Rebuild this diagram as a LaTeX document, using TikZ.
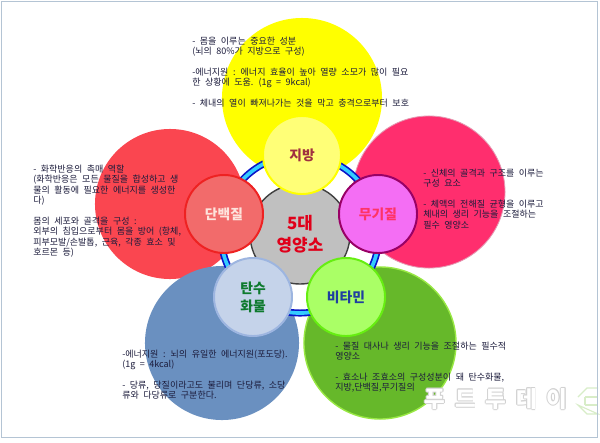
\documentclass[tikz,border=0pt]{standalone}
\usepackage{fontspec}
\setmainfont{Noto Sans CJK KR}
\DeclareRobustCommand\bodyfont{\fontsize{6.4}{7.4}\selectfont\setlength{\spaceskip}{0.5em}}
\definecolor{txt}{HTML}{1C1C3C}
\definecolor{cyellow}{HTML}{FFFF00}
\definecolor{cred}{HTML}{FA4650}
\definecolor{cpink}{HTML}{FF2E6E}
\definecolor{cblue}{HTML}{6A90C0}
\definecolor{cgreen}{HTML}{66B82A}
\definecolor{cgreenedge}{HTML}{99E844}
\definecolor{sy}{HTML}{FFFF77}
\definecolor{sr}{HTML}{F26B6B}
\definecolor{srb}{HTML}{EE2222}
\definecolor{sp}{HTML}{F46EF4}
\definecolor{spb}{HTML}{990066}
\definecolor{sb}{HTML}{C5D3EA}
\definecolor{sbb}{HTML}{9DB5E0}
\definecolor{sg}{HTML}{AAFF66}
\definecolor{sgb}{HTML}{66EE11}
\definecolor{ringdark}{HTML}{0A14C8}
\definecolor{ringlight}{HTML}{33CCFF}
\definecolor{core}{HTML}{C0C0C0}
\definecolor{coreb}{HTML}{404040}
\definecolor{ly}{HTML}{A03040}
\definecolor{lr}{HTML}{FDE3DC}
\definecolor{lp}{HTML}{FF3366}
\definecolor{lb}{HTML}{0E7A2E}
\definecolor{lg}{HTML}{1F3FA0}
\definecolor{lc}{HTML}{E0001A}
\definecolor{frame}{HTML}{B4C4D4}
\definecolor{wmline}{HTML}{D2D2D2}
\definecolor{logo}{HTML}{D8EDC8}
\begin{document}
\begin{tikzpicture}[x=0.025cm,y=-0.025cm,
  bigc/.style={circle,inner sep=0pt,outer sep=0pt,draw=none},
  smallc/.style={circle,inner sep=0pt,minimum size=1.95cm,line width=1.4pt},
  lab/.style={font=\bfseries\fontsize{9.8}{12.8}\selectfont,align=center,inner sep=0pt},
  body/.style={font=\bodyfont,text=txt,align=left,anchor=north west,inner sep=0pt},
  wmark/.style={font=\bfseries\fontsize{16}{16}\selectfont,inner sep=0pt}]
\useasboundingbox (0,0) rectangle (600,442);
\fill[white] (0,0) rectangle (600,442);
% big circles
\node[bigc,fill=cyellow,minimum size=4cm] (yb) at (302,98) {};
\node[bigc,fill=cred,minimum size=3.75cm] (rb) at (170,204) {};
\node[bigc,fill=cpink,draw=purple!40,line width=0.6pt,minimum size=3.8cm] (pb) at (429,192) {};
\node[bigc,fill=cgreen,draw=cgreenedge,line width=1pt,minimum size=3.8cm] (gb) at (380,343) {};
\node[bigc,fill=cblue,minimum size=3.85cm] (bb) at (222,343) {};
% ring
\coordinate (ctr) at (300,234);
\draw[ringdark,line width=5pt] (ctr) circle (1.975cm);
\draw[ringlight,line width=2.6pt] (ctr) circle (1.975cm);
% core
\node[circle,inner sep=0pt,minimum size=2.5cm,fill=core,draw=coreb,line width=1pt] (cn) at (ctr) {};
% small circles
\node[smallc,fill=sy,draw=cyellow] (ys) at (302,155) {};
\node[smallc,fill=sr,draw=srb] (rs) at (224,214) {};
\node[smallc,fill=sp,draw=spb] (ps) at (378,214) {};
\node[smallc,fill=sb,draw=sbb] (bs) at (253,297) {};
\node[smallc,fill=sg,draw=sgb] (gs) at (346,297) {};
% labels
\node[lab,text=ly] at (ys) {지방};
\node[lab,text=lr] at (rs) {단백질};
\node[lab,text=lp] at (ps) {무기질};
\node[lab,text=lb] at (bs) {탄수\\화물};
\node[lab,text=lg] at (gs) {비타민};
\node[font=\bfseries\fontsize{12}{15.6}\selectfont,align=center,text=lc,inner sep=0pt] (ct) at (cn) {5대\\영양소};
% body texts
\node[body] (ty) at (192,36.5) {- 몸을 이루는 중요한 성분\\(뇌의 80\%가 지방으로 구성)\\[7.4pt]-에너지원 : 에너지 효율이 높아 열량 소모가 많이 필요\\한 상황에 도움. (1g = 9kcal)\\[7.4pt]- 체내의 열이 빠져나가는 것을 막고 충격으로부터 보호};
\node[body] (tr) at (33,164.5) {- 화학반응의 촉매 역할\\(화학반응은 모든 물질을 합성하고 생\\물의 활동에 필요한 에너지를 생성한\\다)\\[7.4pt]몸의 세포와 골격을 구성 :\\외부의 침입으로부터 몸을 방어 (항체,\\피부모발/손발톱, 근육, 각종 효소 및\\호르몬 등)};
\node[body] (tp) at (423,168.5) {- 신체의 골격과 구조를 이루는\\구성 요소\\[7.4pt]- 체액의 전해질 균형을 이루고\\체내의 생리 기능을 조절하는\\필수 영양소};
\node[body] (tb) at (122,349.5) {-에너지원 : 뇌의 유일한 에너지원(포도당).\\(1g = 4kcal)\\[7.4pt]- 당류, 당질이라고도 불리며 단당류, 소당\\류와 다당류로 구분한다.};
\node[body] (tg) at (335,341.5) {- 물질 대사나 생리 기능을 조절하는 필수적\\영양소\\[7.4pt]- 효소나 조효소의 구성성분이 돼 탄수화물,\\지방,단백질,무기질의};
% watermark
\foreach \dx/\dy in {0.55/0,-0.55/0,0/0.55,0/-0.55,0.4/0.4,-0.4/0.4,0.4/-0.4,-0.4/-0.4}
  \node[wmark,text=wmline] at ([shift={(\dx pt,\dy pt)}]496,399) {푸\hspace{7pt}드\hspace{7pt}투\hspace{7pt}데\hspace{7pt}이};
\node[wmark,text=white] (wm) at (496,399) {푸\hspace{7pt}드\hspace{7pt}투\hspace{7pt}데\hspace{7pt}이};
\draw[logo,line width=0.8pt] (578,397) -- (587,388) -- (598,388) (598,414) -- (587,414) -- (578,405) -- cycle;
\draw[logo,line width=0.8pt] (585,397) -- (598,397) (585,405) -- (598,405) (585,397) -- (585,405);
% frame
\draw[frame,line width=1.4pt] (1.5,1.5) rectangle (597.5,437.5);
\end{tikzpicture}
\end{document}
